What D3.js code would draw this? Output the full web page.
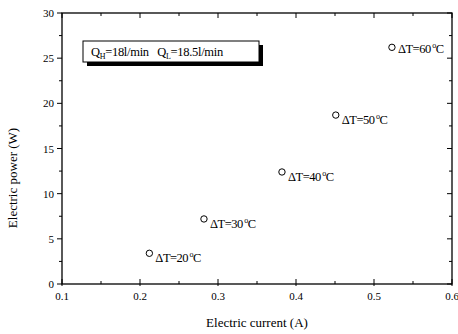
<!DOCTYPE html>
<html>
<head>
<meta charset="utf-8">
<script src="https://cdn.jsdelivr.net/npm/d3@7"></script>
<style>
  body { margin: 0; background: #fff; }
  svg text { font-family: "Liberation Serif", "DejaVu Serif", serif; fill: #000; }
</style>
</head>
<body>
<div id="chart"></div>
<script>
'use strict';

// data
var current = [0.212, 0.282, 0.382, 0.451, 0.523];
var power = [3.4, 7.2, 12.4, 18.7, 26.2];
var deltaT = [20, 30, 40, 50, 60];
var xTicks = [0.1, 0.2, 0.3, 0.4, 0.5, 0.6];
var yTicks = [0, 5, 10, 15, 20, 25, 30];

var W = 458, H = 334;
var margin = {top: 13, right: 6, bottom: 50, left: 62},
  width = W - margin.left - margin.right,
  height = H - margin.top - margin.bottom;

var svg = d3.select("#chart").append("svg")
  .attr("width", W)
  .attr("height", H);

var g = svg.append("g")
  .attr("transform", "translate(" + margin.left + "," + margin.top + ")");

var x = d3.scaleLinear().domain([0.1, 0.6]).range([0, width]),
  y = d3.scaleLinear().domain([0, 30]).range([height, 0]);

var xMinor = d3.range(0.15, 0.6, 0.1);
var yMinor = d3.range(2.5, 30, 5);

// frame
g.append("rect")
  .attr("width", width).attr("height", height)
  .attr("fill", "none").attr("stroke", "#000").attr("stroke-width", 1.3);

// bottom axis: ticks inward
var bottom = g.append("g").attr("transform", "translate(0," + height + ")");
bottom.selectAll("line.maj").data(xTicks).enter().append("line")
  .attr("x1", d => x(d)).attr("x2", d => x(d))
  .attr("y1", 2).attr("y2", -5)
  .attr("stroke", "#000");
bottom.selectAll("line.min").data(xMinor).enter().append("line")
  .attr("x1", d => x(d)).attr("x2", d => x(d))
  .attr("y1", 0).attr("y2", -3)
  .attr("stroke", "#000");
bottom.selectAll("text").data(xTicks).enter().append("text")
  .attr("x", d => x(d)).attr("y", 16)
  .attr("text-anchor", "middle")
  .style("font-size", "11px")
  .text(d => d3.format(".1f")(d));

// top axis ticks
g.selectAll("line.top").data(xTicks.concat(xMinor)).enter().append("line")
  .attr("x1", d => x(d)).attr("x2", d => x(d))
  .attr("y1", 0).attr("y2", (d, i) => i < xTicks.length ? 5 : 3)
  .attr("stroke", "#000");

// left axis: ticks outward
var left = g.append("g");
left.selectAll("line.maj").data(yTicks).enter().append("line")
  .attr("x1", -5).attr("x2", 0)
  .attr("y1", d => y(d)).attr("y2", d => y(d))
  .attr("stroke", "#000");
left.selectAll("line.min").data(yMinor).enter().append("line")
  .attr("x1", -3).attr("x2", 0)
  .attr("y1", d => y(d)).attr("y2", d => y(d))
  .attr("stroke", "#000");
left.selectAll("text").data(yTicks).enter().append("text")
  .attr("x", -8).attr("y", d => y(d) + 4)
  .attr("text-anchor", "end")
  .style("font-size", "11px")
  .text(d => d);

// right axis ticks inward
g.selectAll("line.right").data(yTicks.concat(yMinor)).enter().append("line")
  .attr("x1", width).attr("x2", (d, i) => i < yTicks.length ? width - 5 : width - 3)
  .attr("y1", d => y(d)).attr("y2", d => y(d))
  .attr("stroke", "#000");

// axis titles
svg.append("text")
  .attr("x", margin.left + width / 2).attr("y", 327)
  .attr("text-anchor", "middle")
  .style("font-size", "13px")
  .text("Electric current (A)");

svg.append("text")
  .attr("transform", "translate(17,178) rotate(-90)")
  .attr("text-anchor", "middle")
  .style("font-size", "13px")
  .text("Electric power (W)");

// points
var pts = current.map((c, i) => ({x: c, y: power[i], t: deltaT[i]}));

g.selectAll("circle").data(pts).enter().append("circle")
  .attr("cx", d => x(d.x)).attr("cy", d => y(d.y))
  .attr("r", 3.2)
  .attr("fill", "#fff").attr("stroke", "#000").attr("stroke-width", 1);

var lab = g.selectAll("text.lab").data(pts).enter().append("text")
  .attr("class", "lab")
  .attr("x", d => x(d.x) + 6)
  .attr("y", (d, i) => y(d.y) + (i == 4 ? 6 : 9))
  .style("font-size", "12.5px")
  .style("letter-spacing", "-0.5px");
lab.append("tspan").text(d => "\u0394T=" + d.t);
lab.append("tspan").attr("dy", -5).style("font-size", "8px").text("\u00a0o");
lab.append("tspan").attr("dy", 5).text("C");

// legend box with shadow
var box = {x: 83, y: 41, w: 176, h: 21};
svg.append("rect")
  .attr("x", box.x + 4).attr("y", box.y + 4)
  .attr("width", box.w).attr("height", box.h)
  .attr("fill", "#000");
svg.append("rect")
  .attr("x", box.x).attr("y", box.y)
  .attr("width", box.w).attr("height", box.h)
  .attr("fill", "#fff").attr("stroke", "#000").attr("stroke-width", 1);

var leg = svg.append("text")
  .attr("x", box.x + 8).attr("y", box.y + 15)
  .style("font-size", "12.5px")
  .style("letter-spacing", "-0.3px");
leg.append("tspan").text("Q");
leg.append("tspan").attr("dy", 3).style("font-size", "8px").text("H");
leg.append("tspan").attr("dy", -3).text("=18l/min\u00a0\u00a0\u00a0Q");
leg.append("tspan").attr("dy", 3).style("font-size", "8px").text("L");
leg.append("tspan").attr("dy", -3).text("=18.5l/min");
</script>
</body>
</html>
